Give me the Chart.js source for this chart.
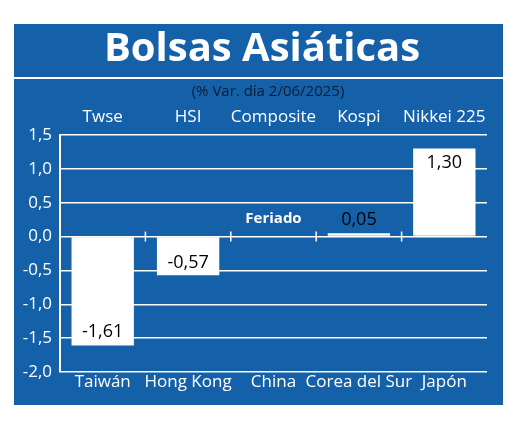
<!DOCTYPE html>
<html><head><meta charset="utf-8">
<script src="https://cdn.jsdelivr.net/npm/chart.js@4/dist/chart.umd.min.js"></script>
<style>body{margin:0;background:#fff}#wrap{width:520px;height:423px}</style>
</head><body><div id="wrap"><canvas id="c"></canvas></div>
<script>
const paises = ['Taiwán','Hong Kong','China','Corea del Sur','Japón'];
const indices = ['Twse','HSI','Composite','Kospi','Nikkei 225'];
const variacion = [-1.61, -0.57, null, 0.05, 1.30];
const etiquetas = ['-1,61','-0,57','Feriado','0,05','1,30'];
const FONT = '"Open Sans", sans-serif';
const NARROW = '"Liberation Sans Narrow", "Open Sans", sans-serif';
const BLUE = '#1561a9';

const deco = {
  id: 'deco',
  beforeDraw(ch) {
    const c = ch.ctx;
    c.save();
    c.fillStyle = BLUE;
    c.fillRect(14, 24, 489, 381);
    c.fillStyle = '#fff';
    c.fillRect(14, 77, 489, 2);
    c.textAlign = 'center';
    c.textBaseline = 'middle';
    c.font = 'bold 40px ' + FONT;
    c.fillText('Bolsas Asiáticas', 262, 50);
    c.fillStyle = '#0d1b33';
    c.font = '15px ' + NARROW;
    c.fillText('(% Var. día 2/06/2025)', 268, 92);
    c.restore();
  },
  afterDraw(ch) {
    const c = ch.ctx, x = ch.scales.x, y = ch.scales.y, a = ch.chartArea;
    c.save();
    c.textAlign = 'center';
    c.textBaseline = 'middle';
    const y0 = y.getPixelForValue(0);
    c.strokeStyle = '#fff';
    c.lineWidth = 1.5;
    for (let i = 1; i < paises.length; i++) {
      const px = a.left + i * (a.right - a.left) / paises.length;
      c.beginPath(); c.moveTo(px, y0 - 5); c.lineTo(px, y0 + 5); c.stroke();
    }
    paises.forEach((p, i) => {
      const px = x.getPixelForValue(i);
      c.fillStyle = '#fff';
      c.font = '17px ' + NARROW;
      c.fillText(indices[i], px, 117);
      c.fillText(p, px, 382);
      const v = variacion[i];
      if (v === null) {
        c.font = 'bold 15px ' + NARROW;
        c.fillText(etiquetas[i], px, 219);
      } else {
        c.fillStyle = '#000';
        c.font = '18px ' + NARROW;
        let py;
        if (v < -1) py = y.getPixelForValue(v) - 14;
        else if (v < 0) py = y.getPixelForValue(v) - 12;
        else if (v < 0.5) py = y.getPixelForValue(v) - 13;
        else py = y.getPixelForValue(v) + 14;
        c.fillText(etiquetas[i], px, py);
      }
    });
    c.restore();
  }
};

new Chart(document.getElementById('c'), {
  type: 'bar',
  data: { labels: paises, datasets: [{ data: variacion, backgroundColor: '#fff', barPercentage: 0.73, categoryPercentage: 1 }] },
  options: {
    responsive: true, maintainAspectRatio: false, animation: false,
    layout: { padding: { top: 135, bottom: 51, right: 33, left: 14 } },
    plugins: { legend: { display: false }, tooltip: { enabled: false } },
    scales: {
      x: { display: false },
      y: {
        min: -2, max: 1.5,
        afterFit: s => { s.width = 46; },
        border: { color: '#fff', width: 2 },
        grid: { color: '#fff', lineWidth: 1.5, drawTicks: false },
        ticks: { stepSize: 0.5, color: '#fff', padding: 8, font: { family: NARROW, size: 17 },
          callback: v => v.toFixed(1).replace('.', ',') }
      }
    }
  },
  plugins: [deco]
});
</script></body></html>
